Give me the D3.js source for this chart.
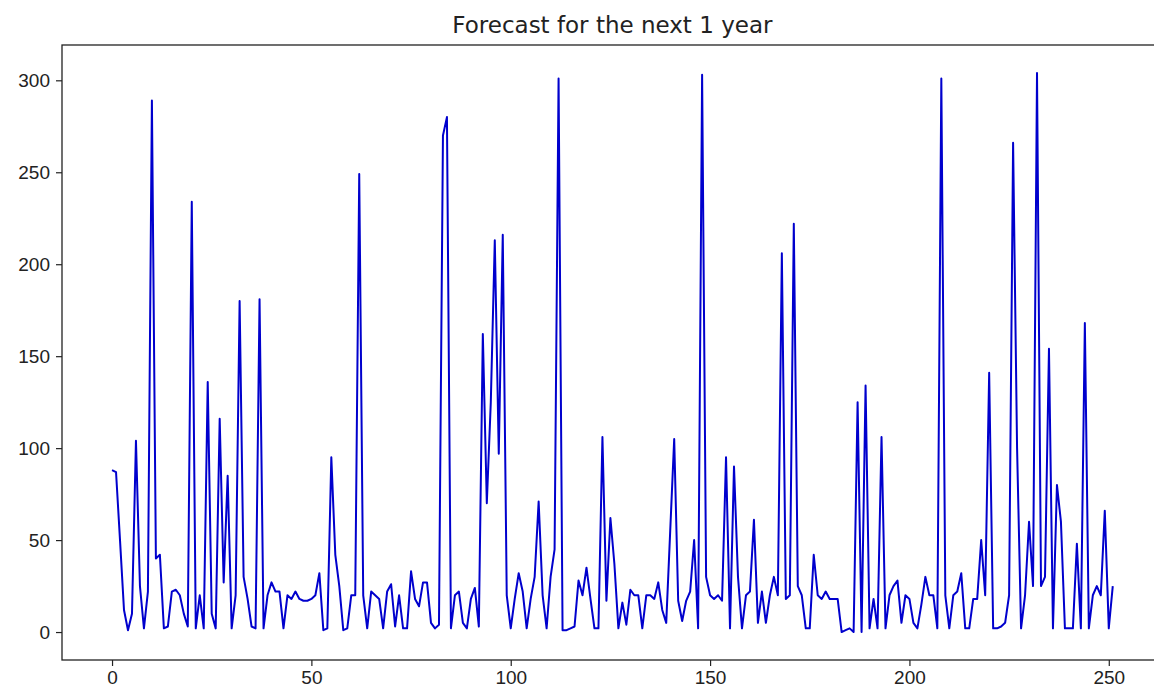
<!DOCTYPE html>
<html>
<head>
<meta charset="utf-8">
<script src="https://cdn.jsdelivr.net/npm/d3@7"></script>
<style>
  html, body { margin: 0; padding: 0; background: #fff; }
  svg { display: block; font-family: "DejaVu Sans", sans-serif; }
</style>
</head>
<body>
<div id="chart"></div>
<script>
const chartTitle = 'Forecast for the next 1 year';
const xTicks = [0, 50, 100, 150, 200, 250];
const yTicks = [0, 50, 100, 150, 200, 250, 300];

// forecast values, one per step
const forecast = [
  88, 87, 50, 12, 1, 10, 104, 25, 2, 22,
  289, 40, 42, 2, 3, 22, 23, 20, 10, 3,
  234, 2, 20, 2, 136, 10, 2, 116, 27, 85,
  2, 20, 180, 30, 18, 3, 2, 181, 2, 20,
  27, 22, 22, 2, 20, 18, 22, 18, 17, 17,
  18, 20, 32, 1, 2, 95, 42, 25, 1, 2,
  20, 20, 249, 20, 2, 22, 20, 18, 2, 22,
  26, 3, 20, 2, 2, 33, 18, 14, 27, 27,
  5, 2, 4, 270, 280, 2, 20, 22, 5, 2,
  18, 24, 3, 162, 70, 125, 213, 97, 216, 20,
  2, 18, 32, 22, 2, 18, 30, 71, 20, 2,
  30, 45, 301, 1, 1, 2, 3, 28, 20, 35,
  18, 2, 2, 106, 17, 62, 37, 2, 16, 4,
  23, 20, 20, 2, 20, 20, 18, 27, 12, 5,
  55, 105, 17, 6, 17, 22, 50, 2, 303, 30,
  20, 18, 20, 17, 95, 2, 90, 30, 2, 20,
  22, 61, 5, 22, 5, 20, 30, 20, 206, 18,
  20, 222, 25, 20, 2, 2, 42, 20, 18, 22,
  18, 18, 18, 0, 1, 2, 0, 125, 0, 134,
  2, 18, 2, 106, 2, 20, 25, 28, 5, 20,
  18, 5, 2, 15, 30, 20, 20, 2, 301, 20,
  2, 20, 22, 32, 2, 2, 18, 18, 50, 20,
  141, 2, 2, 3, 5, 20, 266, 100, 2, 20,
  60, 25, 304, 25, 30, 154, 2, 80, 60, 2,
  2, 2, 48, 2, 168, 2, 20, 25, 20, 66,
  2, 25
];

const width = 1154;
const height = 698;
const margin = { top: 45, left: 62, bottom: 38, plotW: 1100.8 };
const innerW = margin.plotW;
const innerH = height - margin.top - margin.bottom;

const svg = d3.select('#chart')
  .append('svg')
  .attr('width', width)
  .attr('height', height);

const g = svg.append('g').attr('transform', `translate(${margin.left},${margin.top})`);

// matplotlib style 5% padding on both axes
const n = forecast.length - 1;
const yMax = d3.max(forecast), yMin = d3.min(forecast);
const x = d3.scaleLinear()
  .domain([-0.05 * n, n * 1.05])
  .range([0, innerW]);
const y = d3.scaleLinear()
  .domain([yMin - 0.05 * (yMax - yMin), yMax + 0.05 * (yMax - yMin)])
  .range([innerH, 0]);

const line = d3.line()
  .x((d, i) => x(i))
  .y(d => y(d));

g.append('path')
  .datum(forecast)
  .attr('fill', 'none')
  .attr('stroke', '#0000cd')
  .attr('stroke-width', 2)
  .attr('stroke-linejoin', 'round')
  .attr('d', line);

// X axis
g.append('g')
  .attr('transform', `translate(0,${innerH})`)
  .call(d3.axisBottom(x).tickValues(xTicks).tickSize(6).tickPadding(5).tickFormat(d3.format('d')))
  .call(a => a.select('.domain').remove())
  .call(a => a.selectAll('.tick line').attr('stroke', '#222').attr('stroke-width', 1.2))
  .call(a => a.selectAll('.tick text').attr('fill', '#222').style('font-size', '19px'));

// Y axis
g.append('g')
  .call(d3.axisLeft(y).tickValues(yTicks).tickSize(6).tickPadding(6).tickFormat(d3.format('d')))
  .call(a => a.select('.domain').remove())
  .call(a => a.selectAll('.tick line').attr('stroke', '#222').attr('stroke-width', 1.2))
  .call(a => a.selectAll('.tick text').attr('fill', '#222').style('font-size', '19px'));

// frame
g.append('rect')
  .attr('width', innerW)
  .attr('height', innerH)
  .attr('fill', 'none')
  .attr('stroke', '#222')
  .attr('stroke-width', 1.3);

svg.append('text')
  .attr('x', margin.left + innerW / 2)
  .attr('y', 33)
  .attr('text-anchor', 'middle')
  .attr('fill', '#222')
  .style('font-size', '23px')
  .text(chartTitle);
</script>
</body>
</html>
